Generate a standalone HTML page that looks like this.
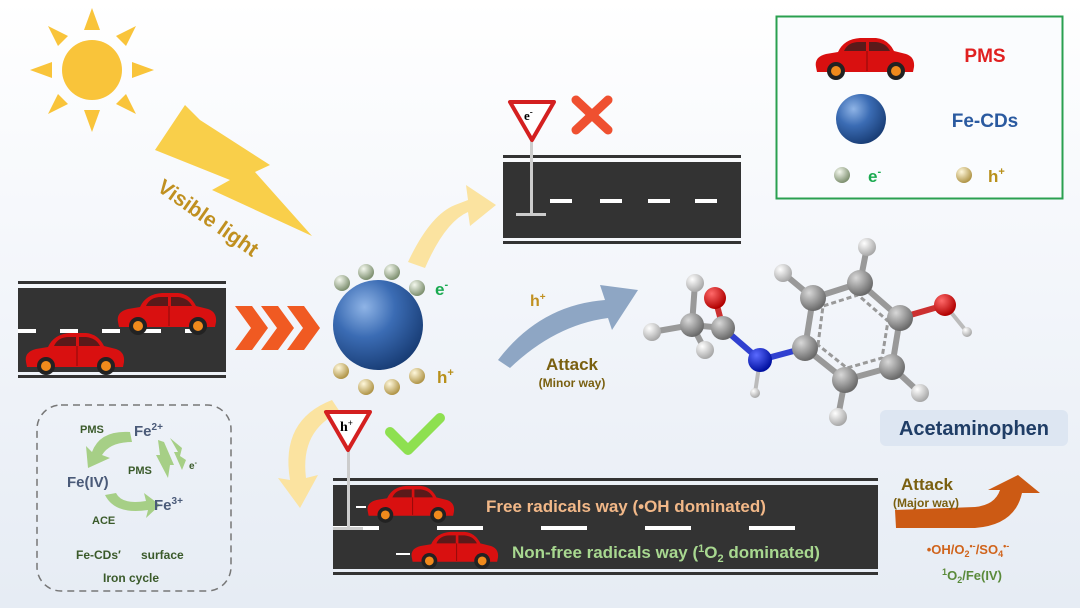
<!DOCTYPE html>
<html><head><meta charset="utf-8"><style>
html,body{margin:0;padding:0;width:1080px;height:608px;overflow:hidden;}
svg{display:block;font-family:"Liberation Sans",sans-serif;font-weight:bold;}
</style></head><body>
<svg width="1080" height="608" viewBox="0 0 1080 608" xmlns="http://www.w3.org/2000/svg">
<defs>
<linearGradient id="bg" x1="0" y1="0" x2="0" y2="1"><stop offset="0" stop-color="#ffffff"/><stop offset="0.5" stop-color="#f2f5fa"/><stop offset="1" stop-color="#e6ecf4"/></linearGradient>
<radialGradient id="blue" cx="0.35" cy="0.3" r="0.75"><stop offset="0" stop-color="#8fb4e6"/><stop offset="0.45" stop-color="#3b6cb4"/><stop offset="1" stop-color="#173b73"/></radialGradient>
<radialGradient id="gball" cx="0.35" cy="0.3" r="0.7"><stop offset="0" stop-color="#f4f8ee"/><stop offset="1" stop-color="#7e9070"/></radialGradient>
<radialGradient id="yball" cx="0.35" cy="0.3" r="0.7"><stop offset="0" stop-color="#fff8dc"/><stop offset="1" stop-color="#b09548"/></radialGradient>
<radialGradient id="cat" cx="0.35" cy="0.3" r="0.7"><stop offset="0" stop-color="#d8d8d8"/><stop offset="1" stop-color="#6a6a6a"/></radialGradient>
<radialGradient id="hat" cx="0.35" cy="0.3" r="0.7"><stop offset="0" stop-color="#ffffff"/><stop offset="1" stop-color="#a8a8a8"/></radialGradient>
<radialGradient id="oat" cx="0.35" cy="0.3" r="0.7"><stop offset="0" stop-color="#ff6a6a"/><stop offset="1" stop-color="#b00000"/></radialGradient>
<radialGradient id="nat" cx="0.35" cy="0.3" r="0.7"><stop offset="0" stop-color="#5a6aff"/><stop offset="1" stop-color="#0010a0"/></radialGradient>
<g id="car">
<path d="M2,30 Q0,20 12,17 L24,15 Q30,2 46,1 L62,1 Q74,2 80,14 L92,17 Q101,20 100,30 L99,35 L3,35 Z" fill="#d91010"/>
<path d="M30,14 Q34,5 45,5 L52,5 L52,14 Z M55,5 L62,5 Q72,6 76,14 L55,14 Z" fill="#5a1a1a"/>
<line x1="53" y1="14" x2="53" y2="34" stroke="#8a0a0a" stroke-width="1"/>
<circle cx="22" cy="34" r="9" fill="#222"/><circle cx="22" cy="34" r="5" fill="#f08a1c"/>
<circle cx="82" cy="34" r="9" fill="#222"/><circle cx="82" cy="34" r="5" fill="#f08a1c"/>
</g>
<g id="e"><circle r="8" fill="url(#gball)"/></g>
<g id="h"><circle r="8" fill="url(#yball)"/></g>
</defs>
<rect width="1080" height="608" fill="url(#bg)"/>

<!-- sun -->
<g fill="#f9c43a">
<circle cx="92" cy="70" r="30"/>
<polygon points="92,8 84,30 100,30"/><polygon points="92,132 84,110 100,110"/>
<polygon points="30,70 52,62 52,78"/><polygon points="154,70 132,62 132,78"/>
<polygon points="48,26 58,46 68,36"/><polygon points="136,26 116,36 126,46"/>
<polygon points="48,114 68,104 58,94"/><polygon points="136,114 126,94 116,104"/>
</g>
<!-- lightning -->
<polygon points="185,105 155,150 230,180 212,190 312,236 255,172 270,165 200,120" fill="#f9cf4a"/>
<text x="0" y="0" transform="translate(156,190) rotate(35)" font-size="21" fill="#c09020">Visible light</text>

<!-- left road -->
<rect x="18" y="281" width="208" height="3" fill="#333"/>
<rect x="18" y="288" width="208" height="84" fill="#333"/>
<rect x="18" y="375" width="208" height="3" fill="#333"/>
<g fill="#fff"><rect x="18" y="329" width="18" height="4"/><rect x="60" y="329" width="18" height="4"/><rect x="102" y="329" width="18" height="4"/><rect x="143" y="329" width="18" height="4"/><rect x="185" y="329" width="18" height="4"/></g>
<use href="#car" transform="translate(116,292)"/>
<use href="#car" transform="translate(24,332)"/>
<!-- chevrons -->
<g fill="#f05a22">
<polygon points="235,306 252,306 268,328 252,350 235,350 251,328"/>
<polygon points="261,306 278,306 294,328 278,350 261,350 277,328"/>
<polygon points="287,306 304,306 320,328 304,350 287,350 303,328"/>
</g>

<!-- catalyst -->
<circle cx="378" cy="325" r="45" fill="url(#blue)"/>
<use href="#e" x="342" y="283"/><use href="#e" x="366" y="272"/><use href="#e" x="392" y="272"/><use href="#e" x="417" y="288"/>
<use href="#h" x="341" y="371"/><use href="#h" x="366" y="387"/><use href="#h" x="392" y="387"/><use href="#h" x="417" y="376"/>
<text x="435" y="295" font-size="17" fill="#1aaa50">e<tspan font-size="11" dy="-7">-</tspan></text>
<text x="437" y="383" font-size="17" fill="#b8901a">h<tspan font-size="11" dy="-7">+</tspan></text>

<!-- yellow arrow up -->
<path d="M408,262 Q430,215 455,205 L468,200 L466,185 L496,205 L470,226 L468,212 Q445,222 425,268 Z" fill="#fbe3a0"/>
<!-- top road -->
<rect x="503" y="155" width="238" height="3" fill="#333"/>
<rect x="503" y="162" width="238" height="76" fill="#333"/>
<rect x="503" y="241" width="238" height="3" fill="#333"/>
<g fill="#fff"><rect x="550" y="199" width="22" height="4"/><rect x="600" y="199" width="22" height="4"/><rect x="648" y="199" width="22" height="4"/><rect x="695" y="199" width="22" height="4"/></g>
<rect x="530" y="130" width="3" height="85" fill="#ccc"/><rect x="516" y="213" width="30" height="3" fill="#ccc"/>
<polygon points="510,102 554,102 532,140" fill="#fff" stroke="#d42020" stroke-width="4" stroke-linejoin="round"/>
<text x="524" y="120" font-size="13" fill="#000" font-family="Liberation Serif">e<tspan font-size="9" dy="-5">-</tspan></text>
<g stroke="#ef5030" stroke-width="9" stroke-linecap="round"><line x1="576" y1="100" x2="608" y2="130"/><line x1="608" y1="100" x2="576" y2="130"/></g>

<!-- legend -->
<rect x="776.5" y="16.5" width="286" height="182" fill="#fafcfe" stroke="#2aa050" stroke-width="2"/>
<use href="#car" transform="translate(814,37)"/>
<text x="985" y="62" font-size="19" fill="#e02020" text-anchor="middle">PMS</text>
<circle cx="861" cy="119" r="25" fill="url(#blue)"/>
<text x="985" y="127" font-size="19" fill="#2a5aa0" text-anchor="middle">Fe-CDs</text>
<use href="#e" x="842" y="175"/><text x="868" y="182" font-size="17" fill="#1aaa50">e<tspan font-size="11" dy="-7">-</tspan></text>
<use href="#h" x="964" y="175"/><text x="988" y="182" font-size="17" fill="#b8901a">h<tspan font-size="11" dy="-7">+</tspan></text>

<!-- minor way arrow -->
<path d="M498,360 Q540,305 605,300 L600,285 L638,290 L612,330 L608,318 Q555,325 510,368 Z" fill="#8ea6c4"/>
<text x="530" y="306" font-size="16" fill="#c09020">h<tspan font-size="10" dy="-6">+</tspan></text>
<text x="572" y="370" font-size="17" fill="#7a6010" text-anchor="middle">Attack</text>
<text x="572" y="387" font-size="12" fill="#7a6010" text-anchor="middle">(Minor way)</text>

<!-- molecule bonds -->
<g stroke="#999" stroke-width="6" stroke-linecap="round">
<line x1="692" y1="325" x2="652" y2="332"/><line x1="692" y1="325" x2="695" y2="283"/><line x1="692" y1="325" x2="705" y2="350"/><line x1="692" y1="325" x2="723" y2="328"/>
<line x1="805" y1="348" x2="813" y2="298"/><line x1="813" y1="298" x2="860" y2="283"/><line x1="860" y1="283" x2="900" y2="318"/><line x1="900" y1="318" x2="892" y2="367"/><line x1="892" y1="367" x2="845" y2="380"/><line x1="845" y1="380" x2="805" y2="348"/>
<line x1="813" y1="298" x2="783" y2="273"/><line x1="860" y1="283" x2="867" y2="247"/><line x1="892" y1="367" x2="920" y2="393"/><line x1="845" y1="380" x2="838" y2="417"/>
</g>
<g stroke="#999" stroke-width="3" stroke-dasharray="5,3" fill="none"><polygon points="818,345 823,306 858,295 888,321 882,358 847,368"/></g>
<line x1="723" y1="328" x2="715" y2="298" stroke="#cc3030" stroke-width="6"/>
<line x1="723" y1="328" x2="760" y2="360" stroke="#3040d0" stroke-width="6"/>
<line x1="760" y1="360" x2="805" y2="348" stroke="#3040d0" stroke-width="6"/>
<line x1="760" y1="360" x2="755" y2="393" stroke="#bbb" stroke-width="4"/>
<line x1="900" y1="318" x2="945" y2="305" stroke="#cc3030" stroke-width="6"/>
<line x1="945" y1="305" x2="967" y2="332" stroke="#bbb" stroke-width="4"/>
<g>
<circle cx="695" cy="283" r="9" fill="url(#hat)"/><circle cx="652" cy="332" r="9" fill="url(#hat)"/><circle cx="705" cy="350" r="9" fill="url(#hat)"/>
<circle cx="783" cy="273" r="9" fill="url(#hat)"/><circle cx="867" cy="247" r="9" fill="url(#hat)"/><circle cx="920" cy="393" r="9" fill="url(#hat)"/><circle cx="838" cy="417" r="9" fill="url(#hat)"/>
<circle cx="755" cy="393" r="5" fill="url(#hat)"/><circle cx="967" cy="332" r="5" fill="url(#hat)"/>
<circle cx="692" cy="325" r="12" fill="url(#cat)"/><circle cx="723" cy="328" r="12" fill="url(#cat)"/>
<circle cx="715" cy="298" r="11" fill="url(#oat)"/>
<circle cx="760" cy="360" r="12" fill="url(#nat)"/>
<circle cx="805" cy="348" r="13" fill="url(#cat)"/><circle cx="813" cy="298" r="13" fill="url(#cat)"/><circle cx="860" cy="283" r="13" fill="url(#cat)"/><circle cx="900" cy="318" r="13" fill="url(#cat)"/><circle cx="892" cy="367" r="13" fill="url(#cat)"/><circle cx="845" cy="380" r="13" fill="url(#cat)"/>
<circle cx="945" cy="305" r="11" fill="url(#oat)"/>
</g>
<rect x="880" y="410" width="188" height="36" rx="6" fill="#dde6f2"/>
<text x="974" y="435" font-size="20" fill="#1f3d66" text-anchor="middle">Acetaminophen</text>

<!-- yellow arrow down -->
<path d="M332,400 Q280,420 290,480 L278,478 L300,508 L318,475 L306,478 Q300,430 340,412 Z" fill="#fbe3a0"/>

<!-- bottom road -->
<rect x="333" y="478" width="545" height="3" fill="#333"/>
<rect x="333" y="485" width="545" height="84" fill="#333"/>
<rect x="333" y="572" width="545" height="3" fill="#333"/>
<g fill="#fff"><rect x="333" y="526" width="46" height="4"/><rect x="437" y="526" width="46" height="4"/><rect x="541" y="526" width="46" height="4"/><rect x="645" y="526" width="46" height="4"/><rect x="749" y="526" width="46" height="4"/></g>
<rect x="347" y="450" width="3" height="80" fill="#ccc"/><rect x="333" y="527" width="30" height="3" fill="#ccc"/>
<rect x="356" y="506" width="10" height="2" fill="#fff"/><rect x="396" y="553" width="14" height="2" fill="#fff"/>
<polygon points="326,412 370,412 348,450" fill="#fff" stroke="#d42020" stroke-width="4" stroke-linejoin="round"/>
<text x="340" y="431" font-size="14" fill="#000" font-family="Liberation Serif">h<tspan font-size="9" dy="-5">+</tspan></text>
<polyline points="390,432 408,450 440,418" fill="none" stroke="#8ee050" stroke-width="10" stroke-linecap="round" stroke-linejoin="round"/>
<use href="#car" transform="translate(366,485) scale(0.88)"/>
<use href="#car" transform="translate(410,531) scale(0.88)"/>
<text x="486" y="512" font-size="17" fill="#f2b888">Free radicals way (•OH dominated)</text>
<text x="512" y="558" font-size="17" fill="#a8d890">Non-free radicals way (<tspan font-size="11" dy="-6">1</tspan><tspan dy="6">O</tspan><tspan font-size="11" dy="4">2</tspan><tspan dy="-4"> dominated)</tspan></text>

<!-- major way -->
<path d="M896,528 L895,510 L975,507 Q995,505 1000,490 L988,490 L1018,475 L1040,493 L1022,493 Q1015,525 975,528 Z" fill="#cc5a14"/>
<text x="927" y="490" font-size="17" fill="#7a6010" text-anchor="middle">Attack</text>
<text x="926" y="507" font-size="12" fill="#7a6010" text-anchor="middle">(Major way)</text>
<text x="968" y="554" font-size="13" fill="#d0641c" text-anchor="middle">•OH/O<tspan font-size="9" dy="3">2</tspan><tspan font-size="9" dy="-8">•-</tspan><tspan dy="5">/SO</tspan><tspan font-size="9" dy="3">4</tspan><tspan font-size="9" dy="-8">•-</tspan></text>
<text x="972" y="580" font-size="13" fill="#5a8a3a" text-anchor="middle"><tspan font-size="9" dy="-5">1</tspan><tspan dy="5">O</tspan><tspan font-size="9" dy="3">2</tspan><tspan dy="-3">/Fe(IV)</tspan></text>

<!-- iron cycle -->
<rect x="37" y="405" width="194" height="186" rx="24" fill="none" stroke="#777" stroke-width="1.5" stroke-dasharray="7,5"/>
<g fill="#a6cf86">
<path d="M130,432 Q100,430 92,452 L86,446 L88,468 L110,458 L102,455 Q110,442 132,442 Z"/>
<path d="M105,495 Q115,515 148,510 L146,518 L160,505 L144,493 L146,501 Q122,505 116,493 Z"/>
<path d="M158,440 L160,455 L156,455 L168,478 L170,465 L174,465 L164,442 Z"/>
<path d="M170,438 L178,452 L174,452 L182,470 L186,460 L180,456 L182,448 Z"/>
</g>
<g fill="#4a5a78"><text x="134" y="436" font-size="15">Fe<tspan font-size="10" dy="-6">2+</tspan></text>
<text x="67" y="487" font-size="15">Fe(IV)</text>
<text x="154" y="510" font-size="15">Fe<tspan font-size="10" dy="-6">3+</tspan></text></g>
<g fill="#3a5a2a"><text x="80" y="433" font-size="11">PMS</text><text x="128" y="474" font-size="11">PMS</text>
<text x="189" y="469" font-size="10">e<tspan font-size="7" dy="-4">-</tspan></text><text x="92" y="524" font-size="11">ACE</text>
<text x="76" y="559" font-size="12">Fe-CDs′</text><text x="141" y="559" font-size="12">surface</text>
<text x="103" y="582" font-size="12">Iron cycle</text></g>
</svg>
</body></html>
